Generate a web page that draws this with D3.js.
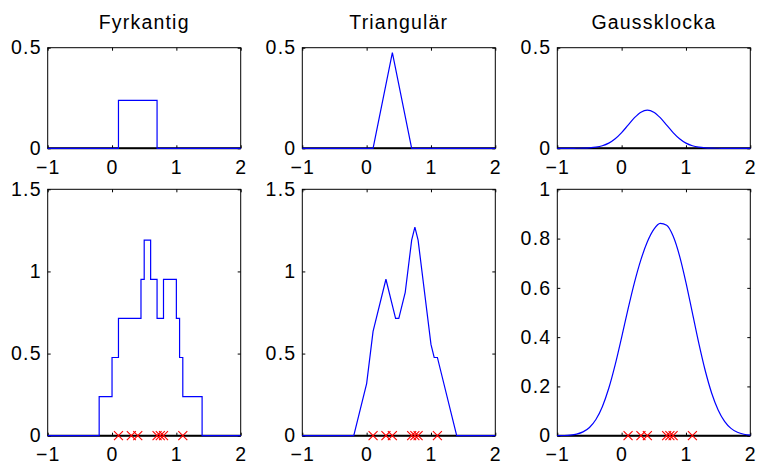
<!DOCTYPE html>
<html>
<head>
<meta charset="utf-8">
<script src="https://cdn.jsdelivr.net/npm/d3@7"></script>
<style>
  html, body { margin: 0; padding: 0; background: #fff; }
  svg { display: block; }
  text { font-family: "Liberation Sans", Arial, Helvetica, sans-serif; fill: #000; }
</style>
</head>
<body>
<svg id="fig" width="758" height="464"></svg>
<script>
// Kernel density estimates of seven observations with three kernel shapes.
const titles = ["Fyrkantig", "Triangulär", "Gaussklocka"];
const samples = [0.1, 0.3, 0.4, 0.7, 0.75, 0.8, 1.1];

const xTicks = [-1, 0, 1, 2];
const yTicksKernel = [0, 0.5];
const yTicksStep = [0, 0.5, 1, 1.5];
const yTicksTri = [0, 0.5, 1, 1.5];
const yTicksGauss = [0, 0.2, 0.4, 0.6, 0.8, 1];

// single kernels (centred at 0.4)
const boxKernelX = [-1, 0.1, 0.7, 2];
const boxKernelY = [0, 0.238, 0, 0];
const triKernelX = [-1, 0.1, 0.4, 0.7, 2];
const triKernelY = [0, 0, 0.476, 0, 0];
const gaussGridX = [-1, -0.9, -0.8, -0.7, -0.6, -0.5, -0.4, -0.3, -0.2, -0.1, 0,
  0.1, 0.2, 0.3, 0.4, 0.5, 0.6, 0.7, 0.8, 0.9, 1, 1.1, 1.2, 1.3, 1.4, 1.5,
  1.6, 1.7, 1.8, 1.9, 2];
const gaussKernelY = [0, 0, 0, 0.0002, 0.0007, 0.0021, 0.0054, 0.0125, 0.0257,
  0.0474, 0.0781, 0.1152, 0.1521, 0.1797, 0.19, 0.1797, 0.1521, 0.1152, 0.0781,
  0.0474, 0.0257, 0.0125, 0.0054, 0.0021, 0.0007, 0.0002, 0, 0, 0, 0, 0];

// density estimates
const boxKdeX = [-1, -0.2, 0, 0.1, 0.45, 0.5, 0.6, 0.7, 0.8, 1, 1.05, 1.1, 1.4, 2];
const boxKdeY = [0, 0.238, 0.476, 0.714, 0.952, 1.19, 0.952, 0.714, 0.952, 0.714,
  0.476, 0.238, 0, 0];
const triKdeX = [-1, -0.2, 0, 0.1, 0.3, 0.4, 0.45, 0.5, 0.6, 0.7, 0.75, 0.8, 1,
  1.05, 1.1, 1.4, 2];
const triKdeY = [0, 0, 0.3175, 0.6349, 0.9524, 0.7937, 0.7143, 0.7143, 0.873,
  1.1905, 1.2698, 1.1905, 0.5556, 0.4762, 0.4762, 0, 0];
const gaussKdeY = [0.0002, 0.0008, 0.0024, 0.0064, 0.0154, 0.0334, 0.0657, 0.1177,
  0.1924, 0.2886, 0.3995, 0.5144, 0.6221, 0.7144, 0.7869, 0.8372, 0.8616, 0.8541,
  0.8102, 0.7301, 0.6216, 0.4981, 0.3746, 0.2635, 0.1725, 0.1046, 0.0584, 0.0298,
  0.0139, 0.0058, 0.0022];

const zip = (xs, ys) => xs.map((x, i) => [x, ys[i]]);

const colX = [47.7, 302.3, 557.3];
const axW = 193;
const rowTop = { y: 47.7, h: 100.6 };
const rowBot = { y: 189.3, h: 246.4 };

const panels = [
  { col: 0, row: rowTop, title: titles[0], yMax: 0.5, yTicks: yTicksKernel, pts: zip(boxKernelX, boxKernelY), curve: d3.curveStepAfter, marks: false },
  { col: 1, row: rowTop, title: titles[1], yMax: 0.5, yTicks: yTicksKernel, pts: zip(triKernelX, triKernelY), curve: d3.curveLinear, marks: false },
  { col: 2, row: rowTop, title: titles[2], yMax: 0.5, yTicks: yTicksKernel, pts: zip(gaussGridX, gaussKernelY), curve: d3.curveMonotoneX, marks: false },
  { col: 0, row: rowBot, yMax: 1.5, yTicks: yTicksStep, pts: zip(boxKdeX, boxKdeY), curve: d3.curveStepAfter, marks: true },
  { col: 1, row: rowBot, yMax: 1.5, yTicks: yTicksTri, pts: zip(triKdeX, triKdeY), curve: d3.curveLinear, marks: true },
  { col: 2, row: rowBot, yMax: 1, yTicks: yTicksGauss, pts: zip(gaussGridX, gaussKdeY), curve: d3.curveMonotoneX, marks: true }
];

const svg = d3.select("#fig");
svg.append("rect").attr("width", 758).attr("height", 464).attr("fill", "#fff");

const fontSize = 19.5;
const fmt = d => (d < 0 ? "\u2212" + Math.abs(d) : String(d));

panels.forEach(p => {
  const x0 = colX[p.col], y0 = p.row.y, h = p.row.h;
  const x = d3.scaleLinear().domain([-1, 2]).range([x0, x0 + axW]);
  const y = d3.scaleLinear().domain([0, p.yMax]).range([y0 + h, y0]);
  const g = svg.append("g");

  // box
  g.append("rect").attr("x", x0).attr("y", y0).attr("width", axW).attr("height", h)
    .attr("fill", "none").attr("stroke", "#000").attr("stroke-width", 1);

  // inward ticks on all four sides
  const tk = 3;
  const bottom = g.append("g").attr("transform", `translate(0,${y0 + h})`)
    .call(d3.axisBottom(x).tickValues(xTicks).tickSizeInner(-tk).tickSizeOuter(0).tickPadding(11.8).tickFormat(fmt));
  const top = g.append("g").attr("transform", `translate(0,${y0})`)
    .call(d3.axisTop(x).tickValues(xTicks).tickSizeInner(-tk).tickSizeOuter(0).tickFormat(""));
  const left = g.append("g").attr("transform", `translate(${x0},0)`)
    .call(d3.axisLeft(y).tickValues(p.yTicks).tickSizeInner(-tk).tickSizeOuter(0).tickPadding(6).tickFormat(fmt));
  const right = g.append("g").attr("transform", `translate(${x0 + axW},0)`)
    .call(d3.axisRight(y).tickValues(p.yTicks).tickSizeInner(-tk).tickSizeOuter(0).tickFormat(""));
  [bottom, top, left, right].forEach(a => {
    a.select(".domain").remove();
    a.selectAll("line").attr("stroke", "#000");
    a.selectAll("text").attr("font-size", fontSize).attr("fill", "#000")
      .style("font-family", '"Liberation Sans", Arial, sans-serif')
      .attr("letter-spacing", 1.2);
  });

  // zero line
  g.append("line").attr("x1", x(-1)).attr("x2", x(2)).attr("y1", y(0)).attr("y2", y(0))
    .attr("stroke", "#000").attr("stroke-width", 2);

  // density curve
  const line = d3.line().x(d => x(d[0])).y(d => y(d[1])).curve(p.curve);
  g.append("path").datum(p.pts).attr("d", line)
    .attr("fill", "none").attr("stroke", "#0000ff").attr("stroke-width", 1.2);

  // observations
  if (p.marks) {
    const s = 4.5;
    g.append("g").selectAll("path").data(samples).join("path")
      .attr("d", d => `M${x(d) - s},${y(0) - s}L${x(d) + s},${y(0) + s}M${x(d) - s},${y(0) + s}L${x(d) + s},${y(0) - s}`)
      .attr("stroke", "#ff0000").attr("stroke-width", 1.1).attr("fill", "none");
  }

  if (p.title) {
    g.append("text").attr("x", x0 + axW / 2).attr("y", 29)
      .attr("text-anchor", "middle").attr("font-size", fontSize)
      .attr("letter-spacing", 1.2).text(p.title);
  }
});
</script>
</body>
</html>
